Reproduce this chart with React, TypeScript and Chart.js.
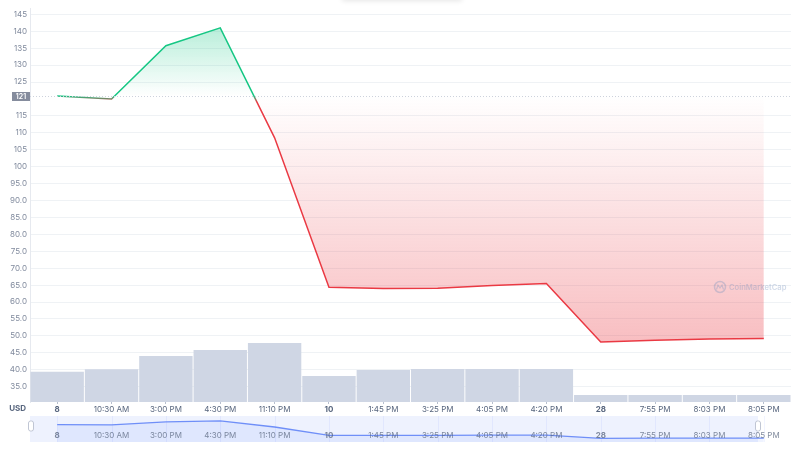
import React, { useEffect, useRef } from "react";
import { Chart, registerables } from "chart.js";

Chart.register(...registerables);

// ---- data ----
const labels = ["8", "10:30 AM", "3:00 PM", "4:30 PM", "11:10 PM", "10", "1:45 PM", "3:25 PM", "4:05 PM", "4:20 PM", "28", "7:55 PM", "8:03 PM", "8:05 PM"];
const dateLabels = ["8", "10", "28"];
const prices = [120.9, 120.0, 135.7, 141.0, 108.5, 64.35, 64.0, 64.1, 64.9, 65.5, 48.2, 48.7, 49.1, 49.2];
const volumes = [30.3, 32.7, 46, 52, 59, 26, 32, 33, 33, 33, 7, 7, 7, 7];
const priceTicks = [145, 140, 135, 130, 125, 115, 110, 105, 100, 95, 90, 85, 80, 75, 70, 65, 60, 55, 50, 45, 40, 35];
const baseline = prices[0];
const baselineLabel = "121";
const currencyLabel = "USD";
const watermark = "CoinMarketCap";

const GREEN = "#16c784";
const RED = "#ea3943";
const FONT = "Inter, 'Noto Sans', sans-serif";

function fmtTick(v: number) {
  return v >= 100 ? String(v) : v.toFixed(1);
}

function lineGradient(chart: any, kind: "border" | "fill") {
  const { chartArea, scales } = chart;
  if (!chartArea) return kind === "border" ? GREEN : "rgba(0,0,0,0)";
  const ctx = chart.ctx as CanvasRenderingContext2D;
  const top = chartArea.top;
  const bottom = chartArea.bottom;
  const h = bottom - top;
  const yb = scales.y.getPixelForValue(baseline);
  const tb = Math.min(Math.max((yb - top) / h, 0), 1);
  const g = ctx.createLinearGradient(0, top, 0, bottom);
  if (kind === "border") {
    g.addColorStop(0, GREEN);
    g.addColorStop(tb, GREEN);
    g.addColorStop(Math.min(tb + 6 / h, 1), RED);
    g.addColorStop(1, RED);
  } else {
    const yTop = scales.y.getPixelForValue(Math.max(...prices));
    const yBot = scales.y.getPixelForValue(Math.min(...prices));
    const tt = Math.min(Math.max((yTop - top) / h, 0), 1);
    const tm = Math.min(Math.max((yBot - top) / h, 0), 1);
    g.addColorStop(0, "rgba(22,199,132,0.30)");
    g.addColorStop(tt, "rgba(22,199,132,0.30)");
    g.addColorStop(tb, "rgba(22,199,132,0.0)");
    g.addColorStop(Math.min(tb + 0.0001, 1), "rgba(234,57,67,0.0)");
    g.addColorStop(tm, "rgba(234,57,67,0.33)");
    g.addColorStop(1, "rgba(234,57,67,0.33)");
  }
  return g;
}

const mainDecor = {
  id: "mainDecor",
  afterDatasetsDraw(chart: any) {
    const ctx = chart.ctx as CanvasRenderingContext2D;
    const { chartArea, scales } = chart;
    const yb = Math.round(scales.y.getPixelForValue(baseline)) + 0.5;
    ctx.save();
    // dotted baseline
    ctx.strokeStyle = "#cdd2dc";
    ctx.lineWidth = 1;
    ctx.setLineDash([1, 2]);
    ctx.beginPath();
    ctx.moveTo(chartArea.left, yb);
    ctx.lineTo(chartArea.right, yb);
    ctx.stroke();
    ctx.setLineDash([]);
    // baseline label
    ctx.fillStyle = "#858c9d";
    ctx.fillRect(12, yb - 4.5, 18, 9);
    ctx.fillStyle = "#ffffff";
    ctx.font = `600 7px ${FONT}`;
    ctx.textAlign = "center";
    ctx.textBaseline = "middle";
    ctx.fillText(baselineLabel, 21, yb + 0.5);
    // watermark
    const wy = 287;
    ctx.strokeStyle = "rgba(120,145,190,0.35)";
    ctx.lineWidth = 1.5;
    ctx.beginPath();
    ctx.arc(720, wy, 5.5, 0, Math.PI * 2);
    ctx.stroke();
    ctx.lineWidth = 1.2;
    ctx.beginPath();
    ctx.moveTo(716.5, wy + 2.5);
    ctx.lineTo(718, wy - 2);
    ctx.lineTo(720, wy + 1);
    ctx.lineTo(722, wy - 2);
    ctx.lineTo(723.5, wy + 2.5);
    ctx.stroke();
    ctx.fillStyle = "rgba(120,145,190,0.35)";
    ctx.font = `600 7.6px ${FONT}`;
    ctx.textAlign = "left";
    ctx.fillText(watermark, 729, wy + 0.5);
    ctx.restore();
  },
  afterDraw(chart: any) {
    const ctx = chart.ctx as CanvasRenderingContext2D;
    ctx.save();
    ctx.fillStyle = "#58667e";
    ctx.font = `bold 8px ${FONT}`;
    ctx.textAlign = "right";
    ctx.textBaseline = "middle";
    ctx.fillText(currencyLabel, 26, 409);
    ctx.restore();
  },
};

const navDecor = {
  id: "navDecor",
  beforeDatasetsDraw(chart: any) {
    const ctx = chart.ctx as CanvasRenderingContext2D;
    const { chartArea, scales } = chart;
    ctx.save();
    ctx.fillStyle = "#eef2fe";
    ctx.fillRect(chartArea.left, chartArea.top, chartArea.right - 33 - chartArea.left, chartArea.bottom - chartArea.top);
    ctx.strokeStyle = "rgba(56,97,251,0.07)";
    ctx.lineWidth = 1;
    labels.forEach((_, i) => {
      const x = Math.round(scales.x.getPixelForValue(i)) + 0.5;
      ctx.beginPath();
      ctx.moveTo(x, chartArea.top);
      ctx.lineTo(x, chartArea.bottom);
      ctx.stroke();
    });
    ctx.restore();
  },
  afterDatasetsDraw(chart: any) {
    const ctx = chart.ctx as CanvasRenderingContext2D;
    const { chartArea, scales } = chart;
    ctx.save();
    ctx.textAlign = "center";
    ctx.textBaseline = "middle";
    labels.forEach((l, i) => {
      const x = scales.x.getPixelForValue(i);
      ctx.fillStyle = "rgba(88,102,126,0.75)";
      ctx.font = `${dateLabels.includes(l) ? "bold" : "normal"} 8px ${FONT}`;
      ctx.fillText(l, x, chartArea.top + 19.5);
    });
    // handles
    const hs = [chartArea.left + 1, chartArea.right - 33];
    hs.forEach((x) => {
      ctx.fillStyle = "#ffffff";
      ctx.strokeStyle = "#c0c6d4";
      ctx.lineWidth = 1;
      ctx.beginPath();
      (ctx as any).roundRect(x - 2.5, chartArea.top + 5, 5, 10, 2);
      ctx.fill();
      ctx.stroke();
    });
    ctx.restore();
  },
};

export default function App() {
  const mainRef = useRef<HTMLCanvasElement>(null);
  const navRef = useRef<HTMLCanvasElement>(null);

  useEffect(() => {
    const maxVol = Math.max(...volumes);
    const main = new Chart(mainRef.current!, {
      type: "bar",
      data: {
        labels,
        datasets: [
          {
            type: "line",
            data: prices,
            yAxisID: "y",
            order: 1,
            borderWidth: 1.5,
            pointRadius: 0,
            tension: 0,
            borderColor: (c: any) => lineGradient(c.chart, "border"),
            backgroundColor: (c: any) => lineGradient(c.chart, "fill"),
            fill: { target: { value: baseline } },
          } as any,
          {
            type: "bar",
            data: volumes,
            yAxisID: "vol",
            order: 2,
            backgroundColor: "#cfd6e4",
            barPercentage: 0.982,
            categoryPercentage: 1,
            borderWidth: 0,
          } as any,
        ],
      },
      options: {
        animation: false,
        responsive: false,
        maintainAspectRatio: false,
        layout: { padding: { top: 8, right: 9, left: 0, bottom: 0 } },
        plugins: { legend: { display: false }, tooltip: { enabled: false } },
        scales: {
          x: {
            type: "category",
            offset: true,
            afterFit: (s: any) => {
              s.height = 14;
            },
            grid: { display: true, drawOnChartArea: false, offset: false, tickLength: 2, color: "#b8c0cf" },
            border: { display: false },
            ticks: {
              color: "#58667e",
              maxRotation: 0,
              autoSkip: false,
              padding: 1,
              font: (c: any) => ({ family: FONT, size: 8, weight: dateLabels.includes(labels[c.index]) ? "bold" : "normal" }),
            },
          },
          y: {
            position: "left",
            min: 30.48,
            max: 146.86,
            afterBuildTicks: (s: any) => {
              s.ticks = priceTicks.map((v) => ({ value: v }));
            },
            afterFit: (s: any) => {
              s.width = 30;
            },
            grid: { color: "#eff2f5", drawTicks: false },
            border: { color: "#e6e9ef" },
            ticks: {
              padding: 3,
              color: "#808a9d",
              font: { family: FONT, size: 8 },
              callback: (v: any) => fmtTick(Number(v)),
            },
          },
          vol: {
            display: false,
            min: 0,
            max: maxVol * 6.68,
          },
        },
      } as any,
      plugins: [mainDecor],
    });

    const nav = new Chart(navRef.current!, {
      type: "line",
      data: {
        labels,
        datasets: [
          {
            data: prices,
            borderColor: "#6f8ff8",
            borderWidth: 1.3,
            pointRadius: 0,
            tension: 0,
            fill: "start",
            backgroundColor: "rgba(56,97,251,0.08)",
          },
        ],
      },
      options: {
        animation: false,
        responsive: false,
        maintainAspectRatio: false,
        layout: { padding: { top: 0, right: 9, left: 30, bottom: 0 } },
        plugins: { legend: { display: false }, tooltip: { enabled: false } },
        scales: {
          x: { type: "category", offset: true, display: false },
          y: { display: false, min: 28.4, max: 167.4 },
        },
      } as any,
      plugins: [navDecor],
    });

    return () => {
      main.destroy();
      nav.destroy();
    };
  }, []);

  return (
    <div style={{ position: "fixed", left: 0, top: 0, width: 800, height: 450, background: "#fff", overflow: "hidden" }}>
      <div style={{ position: "absolute", left: 342, top: -20, width: 120, height: 20, boxShadow: "0 1px 5px rgba(0,0,0,0.10)", background: "#fff" }} />
      <canvas ref={mainRef} width={800} height={416} style={{ position: "absolute", left: 0, top: 0, width: 800, height: 416 }} />
      <canvas ref={navRef} width={800} height={26} style={{ position: "absolute", left: 0, top: 416, width: 800, height: 26 }} />
    </div>
  );
}
